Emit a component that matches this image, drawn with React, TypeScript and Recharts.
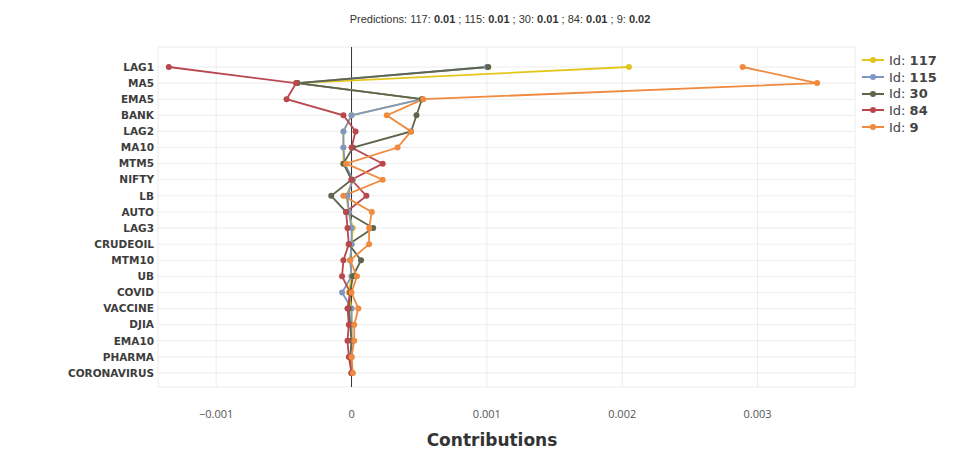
import React from 'react';
import { LineChart, Line, XAxis, YAxis, CartesianGrid, ReferenceLine } from 'recharts';

// features, top to bottom
const features = [
  'LAG1', 'MA5', 'EMA5', 'BANK', 'LAG2', 'MA10', 'MTM5', 'NIFTY', 'LB', 'AUTO',
  'LAG3', 'CRUDEOIL', 'MTM10', 'UB', 'COVID', 'VACCINE', 'DJIA', 'EMA10', 'PHARMA', 'CORONAVIRUS',
];

// contributions per observation id
const id117 = [0.00205, -0.0004, 0.00052, 0.0, -0.00006, -0.00006, -0.00006, 0.00001, -0.00004, -0.00002,
  0.00001, 0.0, -0.00001, 0.0, -0.00002, 0.0, 0.0, 0.0, 0.0, 0.0];
const id115 = [0.001, -0.0004, 0.00052, 0.0, -0.00006, -0.00006, -0.00005, 0.00001, -0.00003, -0.00002,
  0.0, 0.0, -0.00001, 0.0, -0.00007, 0.0, 0.0, 0.0, 0.0, 0.0];
const id30 = [0.00101, -0.0004, 0.00052, 0.00048, 0.00044, 0.00001, -0.00006, 0.0, -0.00015, -0.00004,
  0.00016, -0.00002, 0.00007, 0.00001, -0.00001, -0.00002, -0.00001, 0.0, -0.00001, 0.0];
const id84 = [-0.00135, -0.00041, -0.00048, -0.00006, 0.00003, 0.0, 0.00023, 0.0, 0.00011, -0.00004,
  -0.00003, -0.00002, -0.00006, -0.00007, -0.00001, -0.00003, -0.00002, -0.00003, -0.00002, 0.0];
const id9 = [0.00289, 0.00344, 0.00053, 0.00026, 0.00044, 0.00034, -0.00004, 0.00023, -0.00006, 0.00015,
  0.00013, 0.00013, -0.00001, 0.00004, 0.0, 0.00005, 0.00002, 0.00002, 0.0, 0.00001];

const xTicks = [-0.001, 0, 0.001, 0.002, 0.003];

const series = [
  { key: 'id117', id: '117', color: '#e3c61c' },
  { key: 'id115', id: '115', color: '#7f96c8' },
  { key: 'id30', id: '30', color: '#5f6548' },
  { key: 'id84', id: '84', color: '#b9474d' },
  { key: 'id9', id: '9', color: '#f08a3e' },
];

const predictions = [
  { id: '117', value: '0.01' },
  { id: '115', value: '0.01' },
  { id: '30', value: '0.01' },
  { id: '84', value: '0.01' },
  { id: '9', value: '0.02' },
];

const rows = features.map((feature, i) => ({
  feature,
  id117: id117[i],
  id115: id115[i],
  id30: id30[i],
  id84: id84[i],
  id9: id9[i],
}));

const fmtTick = (v: number) => (v === 0 ? '0' : String(v).replace('-', '\u2212'));

const LegendBox = () => (
  <div
    style={{
      position: 'absolute', left: 862, top: 52, fontFamily: '"DejaVu Sans", sans-serif',
      fontSize: 13, color: '#444',
    }}
  >
    {series.map((s) => (
      <div key={s.key} style={{ display: 'flex', alignItems: 'center', height: 16.7 }}>
        <svg width={22} height={10} style={{ marginRight: 5 }}>
          <line x1={0} y1={5} x2={22} y2={5} stroke={s.color} strokeWidth={2} />
          <circle cx={11} cy={5} r={3} fill={s.color} />
        </svg>
        <span>Id: <b>{s.id}</b></span>
      </div>
    ))}
  </div>
);

export default function App() {
  return (
    <div style={{ position: 'absolute', left: 0, top: 0, width: 956, height: 453, background: '#fff' }}>
      <div
        style={{
          position: 'absolute', top: 13, left: 0, width: 1000, textAlign: 'center',
          fontFamily: '"Liberation Sans", sans-serif', fontSize: 11, color: '#333',
        }}
      >
        Predictions:{' '}
        {predictions.map((p, i) => (
          <span key={p.id}>
            {p.id}: <b>{p.value}</b>{i < predictions.length - 1 ? ' ; ' : ''}
          </span>
        ))}
      </div>
      <LineChart
        width={956}
        height={453}
        data={rows}
        layout="vertical"
        margin={{ top: 47, right: 101, bottom: 36, left: 0 }}
      >
        <CartesianGrid stroke="#ececec" />
        <XAxis
          type="number"
          domain={[-0.00143, 0.00372]}
          ticks={xTicks}
          tickFormatter={fmtTick}
          height={30}
          axisLine={false}
          tickLine={false}
          tickSize={0}
          tickMargin={23}
          tick={{ fill: '#555', fontSize: 11, fontFamily: '"Open Sans", sans-serif' }}
        />
        <YAxis
          type="category"
          dataKey="feature"
          width={158}
          axisLine={false}
          tickLine={false}
          tickSize={0}
          tickMargin={4}
          interval={0}
          padding={{ top: 20, bottom: 14 }}
          tick={{ fill: '#3d3d3d', fontSize: 10.5, fontWeight: 'bold', fontFamily: '"DejaVu Sans", sans-serif' }}
        />
        <ReferenceLine x={0} stroke="#333" strokeWidth={1} />
        {series.map((s) => (
          <Line
            key={s.key}
            dataKey={s.key}
            name={`Id: ${s.id}`}
            stroke={s.color}
            strokeWidth={1.8}
            dot={{ r: 3, fill: s.color, stroke: s.color, strokeWidth: 0 }}
            isAnimationActive={false}
          />
        ))}
      </LineChart>
      <LegendBox />
      <div
        style={{
          position: 'absolute', top: 430, left: 392, width: 200, textAlign: 'center',
          fontFamily: '"DejaVu Sans", sans-serif', fontWeight: 'bold', fontSize: 17, color: '#333',
        }}
      >
        Contributions
      </div>
    </div>
  );
}
